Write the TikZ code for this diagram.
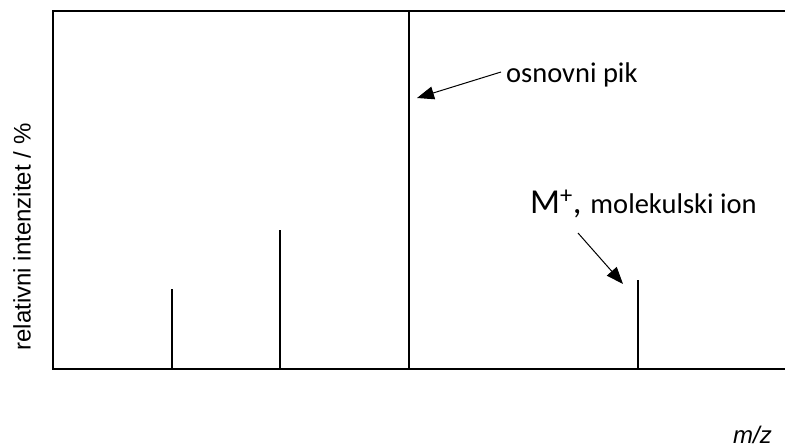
\documentclass[tikz,border=0pt]{standalone}
\usepackage{fontspec}
\setmainfont{Carlito}
\newfontfamily\arialfont{Liberation Sans}
\usetikzlibrary{arrows.meta}
\tikzset{
  axisline/.style={line width=1.6pt, black},
  peakline/.style={line width=1.6pt, black},
  pointer/.style={line width=1pt, -{Triangle[length=17pt,width=13pt]}},
  callout/.style={inner sep=0pt, font=\fontsize{28.5}{30}\selectfont},
}
\begin{document}
\begin{tikzpicture}[x=1pt,y=-1pt]
\useasboundingbox (0,0) rectangle (785,447);
% frame
\coordinate (tl) at (53,11);
\coordinate (tr) at (785,11);
\coordinate (bl) at (53,369);
\coordinate (br) at (785,369);
\draw[axisline] (tr) -- (tl) -- (bl) -- (br);
% peaks
\coordinate (p1b) at (172,369); \coordinate (p1t) at (172,289);
\coordinate (p2b) at (280,369); \coordinate (p2t) at (280,230);
\coordinate (p3b) at (409,369); \coordinate (p3t) at (409,11);
\coordinate (p4b) at (638,369); \coordinate (p4t) at (638,280);
\draw[peakline] (p1b) -- (p1t);
\draw[peakline] (p2b) -- (p2t);
\draw[peakline] (p3b) -- (p3t);
\draw[peakline] (p4b) -- (p4t);
% labels
\node[callout, anchor=base west] (osn) at (506,82) {osnovni pik};
\coordinate (a1s) at (501,72);
\coordinate (a1e) at (417,98);
\draw[pointer] (a1s) -- (a1e);
\node[callout, anchor=base west] (mol) at (530,213) {{\fontsize{35}{36}\selectfont M\textsuperscript{+},\hspace{1pt} }molekulski ion};
\coordinate (a2s) at (578,233);
\coordinate (a2e) at (623,284);
\draw[pointer] (a2s) -- (a2e);
% axis labels
\node[inner sep=0pt, rotate=90, font=\arialfont\fontsize{24}{26}\selectfont] (ylab) at (22,237) {relativni intenzitet / \%};
\node[inner sep=0pt, anchor=base east, font=\arialfont\itshape\fontsize{24}{26}\selectfont] (xlab) at (772,443) {m/z};
\end{tikzpicture}
\end{document}
